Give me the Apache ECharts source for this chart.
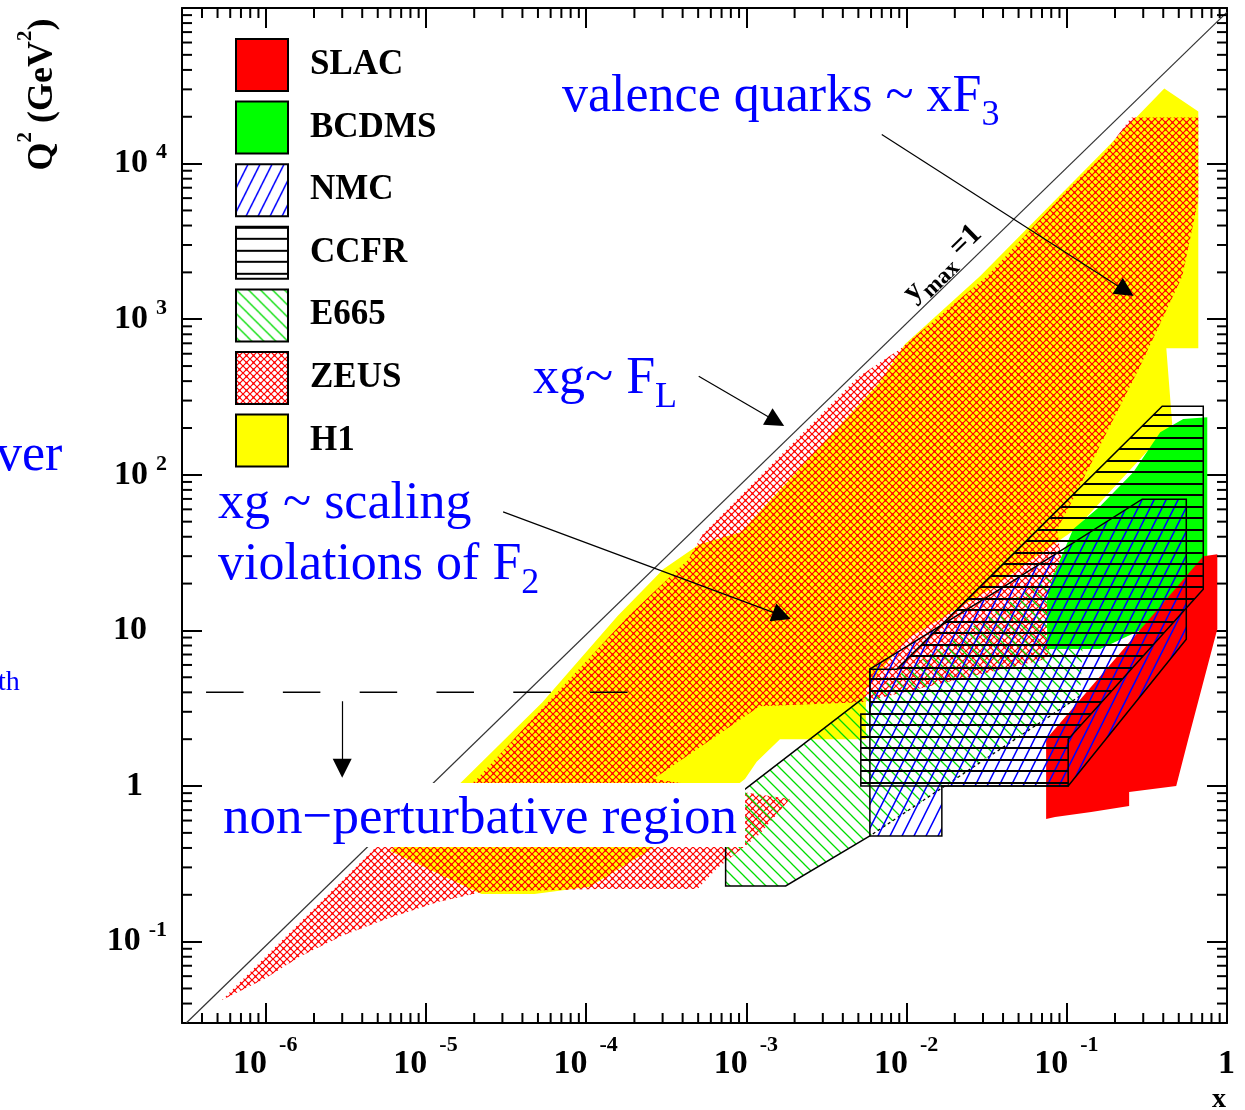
<!DOCTYPE html>
<html>
<head>
<meta charset="utf-8">
<script src="https://cdn.jsdelivr.net/npm/echarts@6/dist/echarts.min.js"></script>
<style>
  html, body { margin: 0; padding: 0; background: #fff; }
  #chart { width: 1245px; height: 1110px; }
</style>
</head>
<body>
<div id="chart"></div>
<script>
// ---- axis ranges and tick labels -------------------------------------------
const X_MIN = 3e-7, X_MAX = 1;
const Q2_MIN = 0.03, Q2_MAX = 1e5;
const xLabelExponents = [-6, -5, -4, -3, -2, -1, 0];
const yLabelExponents = [-1, 0, 1, 2, 3, 4];
const minorSteps = [2, 3, 4, 5, 6, 7, 8, 9];
const xDecades = [-7, -6, -5, -4, -3, -2, -1];
const yDecades = [-2, -1, 0, 1, 2, 3, 4];

// ---- kinematic coverage of each experiment: [x, Q^2 (GeV^2)] corners ------
const h1Region = [
  [0.406, 30400], [0.662, 21600], [0.662, 650], [0.418, 650], [0.455, 211],
  [0.113, 44.7], [0.0332, 18.4], [0.0100, 8.8], [0.00557, 4.2], [0.00557, 2.0],
  [0.00162, 2.0], [0.00116, 1.43], [0.00098, 1.11], [0.000287, 0.424],
  [0.000105, 0.225], [4.75e-5, 0.2025], [2.22e-5, 0.2025], [5.98e-6, 0.383],
  [1.74e-5, 1.11], [5.33e-5, 3.46], [1.57e-4, 12.4], [3.04e-4, 24.8],
  [5.1e-4, 35.8], [9.2e-4, 42.8], [6.8e-3, 393], [9.76e-3, 690],
  [0.0287, 1890], [0.1735, 12340]
];
const zeusRegion = [
  [5.3e-7, 0.042], [5.1e-6, 0.424], [2.03e-5, 1.08], [6.9e-5, 4.2],
  [1.84e-4, 12.4], [4.36e-4, 28.7], [5.33e-4, 41.5], [4.96e-3, 424],
  [9.08e-3, 641], [0.0318, 1890], [0.102, 6830], [0.166, 11100],
  [0.252, 19800], [0.662, 19800], [0.662, 5890], [0.526, 1890],
  [0.287, 498], [0.169, 169], [0.1095, 69.7], [0.087, 44.7], [0.100, 15.9],
  [0.0743, 6.54], [0.0215, 4.87], [5.26e-3, 3.46], [1.21e-3, 3.26],
  [2.63e-4, 1.11], [1.87e-3, 0.825], [1.21e-3, 0.49], [6.5e-4, 0.293],
  [4.96e-4, 0.218], [1.21e-4, 0.218], [2.28e-5, 0.209], [1.19e-5, 0.18],
  [5.65e-6, 0.14], [3.0e-6, 0.109], [1.66e-6, 0.081], [9.8e-7, 0.0576]
];
const e665Region = [
  [7.42e-4, 0.766], [5.26e-3, 3.62], [0.0908, 24.8], [0.130, 15.9],
  [0.121, 3.79], [0.0059, 0.478], [1.76e-3, 0.228], [7.42e-4, 0.228]
];
const e665SolidEdge = [5, 6, 7, 0, 1];   // corner indices of the drawn border
const e665DottedEdge = [4, 5];
const bcdmsRegion = [
  [0.383, 188], [0.533, 228], [0.753, 234], [0.753, 15.9], [0.1615, 7.6],
  [0.0753, 7.6], [0.0753, 15.9], [0.0821, 22.3], [0.1095, 44.7],
  [0.1615, 62.9], [0.26, 104]
];
const slacRegion = [
  [0.0743, 2.0], [0.711, 30], [0.87, 30.9], [0.87, 10.2], [0.573, 2.0],
  [0.482, 1.0], [0.245, 0.915], [0.245, 0.744], [0.142, 0.681],
  [0.0845, 0.632], [0.0743, 0.614]
];
const nmcRegion = [
  [0.2955, 69.7], [0.557, 69.7], [0.557, 8.79], [0.102, 1.0], [0.0166, 1.0],
  [0.0166, 0.478], [0.0059, 0.478], [0.0059, 5.64], [0.0383, 18.4]
];
const ccfrRegion = [
  [0.0059, 5.64], [0.0087, 5.64], [0.394, 276], [0.711, 276], [0.711, 18.4],
  [0.102, 2.0], [0.102, 1.0], [0.00518, 1.0], [0.00518, 2.9], [0.0059, 2.9]
];

// ---- lines and arrows ------------------------------------------------------
const yMaxLine = [[3.2e-7, 0.0301], [1, 94000]];          // Q^2 = s x, y = 1
const q2CutLine = [[4.24e-7, 4], [1.84e-4, 4]];           // Q^2 = 4 GeV^2
const arrowValence = [[7.0e-3, 15400], [0.233, 1520]];
const arrowFL = [[5.04e-4, 430], [1.53e-3, 221]];
const arrowScaling = [[3.03e-5, 57.8], [1.665e-3, 12.45]];
const arrowNonPert = [[3e-6, 3.5], [3e-6, 1.30]];

const legendOrder = ['SLAC', 'BCDMS', 'NMC', 'CCFR', 'E665', 'ZEUS', 'H1'];

// ---- fill patterns -----------------------------------------------------------
function tile(w, h, draw) {
  const c = document.createElement('canvas');
  c.width = w; c.height = h;
  const ctx = c.getContext('2d');
  draw(ctx, w, h);
  return { image: c, repeat: 'repeat' };
}
const zeusFill = tile(7, 7, (ctx, w, h) => {
  ctx.strokeStyle = '#ff0000'; ctx.lineWidth = 1.2;
  ctx.beginPath();
  ctx.moveTo(-1, -1); ctx.lineTo(w + 1, h + 1);
  ctx.moveTo(w + 1, -1); ctx.lineTo(-1, h + 1);
  ctx.stroke();
  ctx.fillStyle = '#ff0000';
  ctx.fillRect(2.5, 2.5, 2, 2);
});
const nmcFill = tile(12, 24, (ctx, w, h) => {
  ctx.strokeStyle = '#0000ff'; ctx.lineWidth = 1.5;
  ctx.beginPath();
  for (const dx of [-w, 0, w]) { ctx.moveTo(dx - 1, h + 2); ctx.lineTo(dx + w + 1, -2); }
  ctx.stroke();
});
const e665Fill = tile(12, 12, (ctx, w, h) => {
  ctx.strokeStyle = '#00dd00'; ctx.lineWidth = 1.3;
  ctx.beginPath();
  for (const dx of [-w, 0, w]) { ctx.moveTo(dx - 1, -1); ctx.lineTo(dx + w + 1, h + 1); }
  ctx.stroke();
});
const ccfrFill = tile(4, 23, (ctx) => {
  ctx.fillStyle = '#000';
  ctx.fillRect(0, 0, 4, 2);
  ctx.fillRect(0, 11, 4, 2);
});

// ---- helpers -----------------------------------------------------------------
const SERIF = 'Liberation Serif';
const BLUE = '#0000ff';

function regionSeries(name, vertices, fill, stroke) {
  return {
    name, type: 'custom', coordinateSystem: 'cartesian2d', clip: true, silent: true,
    itemStyle: { color: fill },
    data: vertices,
    renderItem(params, api) {
      if (params.dataIndex !== 0) return null;
      const pts = vertices.map(v => api.coord(v));
      return {
        type: 'polygon', shape: { points: pts },
        style: { fill: fill, stroke: stroke || null, lineWidth: 1.5 }
      };
    }
  };
}

function powLabel(v, exps, axis) {
  const l = Math.log10(v), e = Math.round(l);
  if (Math.abs(l - e) > 1e-6 || exps.indexOf(e) < 0) return '';
  if (e === 0) return axis === 'y' ? '{b|1}{p1|}' : '{b|1}{sp|}';
  if (e === 1) return '{b|10}{p2|}';
  return '{b|10}{s|' + e + '}{sp|}';
}

function minorValues(decades, lo, hi) {
  const out = [];
  decades.forEach(d => minorSteps.forEach(m => {
    const v = m * Math.pow(10, d);
    if (v > lo && v < hi) out.push(v);
  }));
  return out;
}
const xMinor = minorValues(xDecades, X_MIN, X_MAX);
const yMinor = minorValues(yDecades, Q2_MIN, Q2_MAX);

// blue annotation with an optional subscript, placed by the top of its line box
function note(x, top, main, sub) {
  return {
    type: 'text', x: x, y: top, z: 100,
    style: {
      text: '{m|' + main + '}' + (sub ? '{u|' + sub + '}' : '') + '{sp|}',
      align: 'left', verticalAlign: 'top',
      rich: {
        m: { fontFamily: SERIF, fontSize: 52, lineHeight: 52, verticalAlign: 'top', fill: BLUE },
        u: { fontFamily: SERIF, fontSize: 36, lineHeight: 36, verticalAlign: 'bottom', fill: BLUE },
        sp: { height: 62, width: 1 }
      }
    }
  };
}

const axisBase = {
  type: 'log', logBase: 10,
  axisLine: { show: true, onZero: false, lineStyle: { color: '#000', width: 2 } },
  axisTick: { show: true, inside: true, length: 20, lineStyle: { color: '#000', width: 2 } },
  splitLine: { show: false },
  minorTick: { show: false }
};
const labelB = { fontFamily: SERIF, fontWeight: 'bold', fontSize: 34, color: '#000', lineHeight: 34, verticalAlign: 'middle' };

const chart = echarts.init(document.getElementById('chart'), null, { renderer: 'canvas' });

const tickStyle = { stroke: '#000', lineWidth: 2 };

const option = {
  animation: false,
  backgroundColor: '#fff',
  grid: { left: 182, right: 18, top: 8, bottom: 87, containLabel: false },
  xAxis: [
    Object.assign({}, axisBase, {
      position: 'bottom', min: X_MIN, max: X_MAX,
      axisLabel: {
        interval: 0, margin: 11,
        formatter: v => powLabel(v, xLabelExponents, 'x'),
        rich: {
          b: labelB,
          s: { fontFamily: SERIF, fontWeight: 'bold', fontSize: 22, color: '#000', lineHeight: 22, verticalAlign: 'top', padding: [0, 0, 0, 12] },
          sp: { height: 60, width: 1 }
        }
      }
    }),
    Object.assign({}, axisBase, { position: 'top', min: X_MIN, max: X_MAX, axisLabel: { show: false } })
  ],
  yAxis: [
    Object.assign({}, axisBase, {
      position: 'left', min: Q2_MIN, max: Q2_MAX,
      axisLabel: {
        interval: 0, margin: 14,
        formatter: v => powLabel(v, yLabelExponents, 'y'),
        rich: {
          b: labelB,
          s: { fontFamily: SERIF, fontWeight: 'bold', fontSize: 22, color: '#000', lineHeight: 22, verticalAlign: 'top', padding: [0, 0, 0, 8] },
          sp: { height: 44, width: 1 },
          p1: { width: 25, height: 10 },
          p2: { width: 21, height: 10 }
        }
      }
    }),
    Object.assign({}, axisBase, { position: 'right', min: Q2_MIN, max: Q2_MAX, axisLabel: { show: false } })
  ],
  legend: {
    data: legendOrder,
    orient: 'vertical', left: 235, top: 38, padding: 0,
    itemWidth: 52, itemHeight: 52, itemGap: 8.6,
    icon: 'rect', selectedMode: false,
    itemStyle: { borderColor: '#000', borderWidth: 2 },
    textStyle: { fontFamily: SERIF, fontWeight: 'bold', fontSize: 35, color: '#000', padding: [0, 0, 10, 17] }
  },
  series: [
    regionSeries('H1', h1Region, '#ffff00', null),
    regionSeries('ZEUS', zeusRegion, zeusFill, null),
    {
      name: 'E665', type: 'custom', coordinateSystem: 'cartesian2d', clip: true, silent: true,
      itemStyle: { color: e665Fill },
      data: e665Region,
      renderItem(params, api) {
        if (params.dataIndex !== 0) return null;
        const pts = e665Region.map(v => api.coord(v));
        return {
          type: 'group', children: [
            { type: 'polygon', shape: { points: pts }, style: { fill: e665Fill, stroke: null } },
            { type: 'polyline', shape: { points: e665SolidEdge.map(i => pts[i]) }, style: { stroke: '#000', lineWidth: 1.5, fill: null } },
            { type: 'polyline', shape: { points: e665DottedEdge.map(i => pts[i]) }, style: { stroke: '#000', lineWidth: 1.3, lineDash: [3, 3], fill: null } }
          ]
        };
      }
    },
    regionSeries('BCDMS', bcdmsRegion, '#00ff00', null),
    regionSeries('SLAC', slacRegion, '#ff0000', null),
    regionSeries('NMC', nmcRegion, nmcFill, '#000'),
    regionSeries('CCFR', ccfrRegion, ccfrFill, '#000'),
    {
      type: 'line', silent: true, symbol: 'none', data: yMaxLine,
      lineStyle: { color: '#333', width: 1.2 }, z: 3
    },
    {
      type: 'line', silent: true, symbol: 'none', data: q2CutLine,
      lineStyle: { color: '#000', width: 1.5, type: [37.5, 39.3] }, z: 3
    },
    {
      type: 'lines', coordinateSystem: 'cartesian2d', silent: true, z: 4,
      symbol: ['none', 'triangle'], symbolSize: 19,
      lineStyle: { color: '#000', width: 1.2, opacity: 1, curveness: 0 },
      data: [arrowValence, arrowFL, arrowScaling, arrowNonPert].map(c => ({ coords: c }))
    },
    {
      type: 'custom', coordinateSystem: 'cartesian2d', silent: true, clip: false, z: 5,
      data: xMinor.map(v => [v, Q2_MIN]),
      renderItem(params, api) {
        const b = api.coord([api.value(0), Q2_MIN]);
        const t = api.coord([api.value(0), Q2_MAX]);
        return { type: 'group', children: [
          { type: 'line', shape: { x1: b[0], y1: b[1], x2: b[0], y2: b[1] - 10 }, style: tickStyle },
          { type: 'line', shape: { x1: t[0], y1: t[1], x2: t[0], y2: t[1] + 10 }, style: tickStyle }
        ] };
      }
    },
    {
      type: 'custom', coordinateSystem: 'cartesian2d', silent: true, clip: false, z: 5,
      data: yMinor.map(v => [X_MIN, v]),
      renderItem(params, api) {
        const l = api.coord([X_MIN, api.value(1)]);
        const r = api.coord([X_MAX, api.value(1)]);
        return { type: 'group', children: [
          { type: 'line', shape: { x1: l[0], y1: l[1], x2: l[0] + 10, y2: l[1] }, style: tickStyle },
          { type: 'line', shape: { x1: r[0], y1: r[1], x2: r[0] - 10, y2: r[1] }, style: tickStyle }
        ] };
      }
    }
  ],
  graphic: [
    // axis titles
    {
      type: 'text', x: 43, y: 94, rotation: Math.PI / 2, z: 100,
      style: {
        text: '{q|Q}{s|2}{q| (GeV}{s|2}{q|)}{sp|}',
        align: 'center', verticalAlign: 'middle',
        rich: {
          q: { fontFamily: SERIF, fontWeight: 'bold', fontSize: 36, lineHeight: 36, verticalAlign: 'middle', fill: '#000' },
          s: { fontFamily: SERIF, fontWeight: 'bold', fontSize: 21, lineHeight: 21, verticalAlign: 'top', fill: '#000' },
          sp: { height: 56, width: 1 }
        }
      }
    },
    {
      type: 'text', x: 1219, y: 1100, z: 100,
      style: { text: 'x', font: 'bold 28px ' + SERIF, fill: '#000', align: 'center', verticalAlign: 'middle' }
    },
    // kinematic limit label
    {
      type: 'text', x: 943, y: 263, rotation: 0.771, z: 100,
      style: {
        text: '{a|y}{b|max}{a| =1}{sp|}',
        align: 'center', verticalAlign: 'middle',
        rich: {
          a: { fontFamily: SERIF, fontWeight: 'bold', fontSize: 30, lineHeight: 30, verticalAlign: 'middle', fill: '#000' },
          b: { fontFamily: SERIF, fontWeight: 'bold', fontSize: 23, lineHeight: 23, verticalAlign: 'bottom', fill: '#000' },
          sp: { height: 44, width: 1 }
        }
      }
    },
    // physics annotations
    note(562, 71.5, 'valence quarks ~ xF', '3'),
    note(533, 353.5, 'xg~ F', 'L'),
    note(218, 478.5, 'xg ~ scaling', null),
    note(218, 539.5, 'violations of F', '2'),
    { type: 'text', x: -4, y: 456, z: 100, style: { text: 'ver', font: '52px ' + SERIF, fill: BLUE, align: 'left', verticalAlign: 'middle' } },
    { type: 'text', x: -2, y: 683, z: 100, style: { text: 'th', font: '28px ' + SERIF, fill: BLUE, align: 'left', verticalAlign: 'middle' } },
    {
      type: 'text', x: 215, y: 783, z: 100,
      style: {
        text: 'non\u2212perturbative region', font: '53px ' + SERIF, fill: BLUE,
        align: 'left', verticalAlign: 'top', lineHeight: 56,
        backgroundColor: '#fff', padding: [8, 8, 0, 8]
      }
    }
  ]
};

chart.setOption(option);
</script>
</body>
</html>
